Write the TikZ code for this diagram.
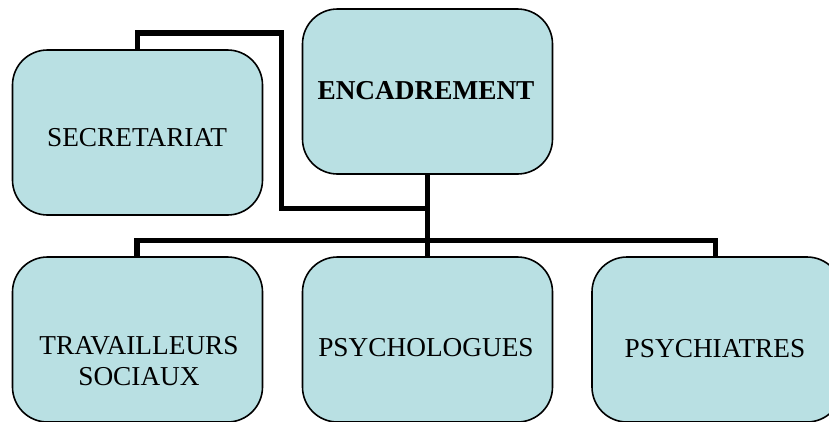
\documentclass[tikz,border=0pt]{standalone}
\usepackage{fontspec}
\setmainfont{Liberation Serif}
\definecolor{boxfill}{HTML}{B9E0E3}
\tikzset{
  orgbox/.style={draw=black, line width=1.6pt, fill=boxfill, rounded corners=35pt,
    minimum width=250pt, minimum height=165pt, inner sep=0pt, outer sep=0pt},
  txt/.style={font=\fontsize{27.3}{31}\selectfont, inner sep=0pt, align=center},
  conn/.style={line width=5.3pt, line join=miter, line cap=rect}
}
\begin{document}
\begin{tikzpicture}[x=1pt,y=-1pt]
\useasboundingbox (0,0) rectangle (829,421);
\clip (0,0) rectangle (829,421);
% connectors first (behind boxes)
\coordinate (j) at (427.5,240.5);
\coordinate (c1) at (281.5,33);
\coordinate (c2) at (427.5,208.5);
\coordinate (secn) at (137.5,50);
\coordinate (encs) at (427.5,175);
\coordinate (tran) at (137,257);
\coordinate (psyn) at (427.5,257);
\coordinate (psin) at (715.5,257);
\draw[conn] (secn) |- (c1) |- (c2);
\draw[conn] (encs) -- (j);
\draw[conn] (tran) |- (j);
\draw[conn] (psin) |- (j);
\draw[conn] (psyn) -- (j);
% boxes
\node[orgbox] (sec) at (137.5,132.5) {};
\node[orgbox] (enc) at (427.5,91.5) {};
\node[orgbox] (tra) at (137.5,339.5) {};
\node[orgbox] (psy) at (427.5,339.5) {};
\node[orgbox] (psi) at (717,339.5) {};
% texts
\node[txt, anchor=base] (tsec) at (137,146) {SECRETARIAT};
\node[txt, anchor=base] (tenc) at (426,99) {\bfseries ENCADREMENT};
\node[txt] (ttra) at (139,361.5) {TRAVAILLEURS\\SOCIAUX};
\node[txt, anchor=base] (tpsy) at (426,356) {PSYCHOLOGUES};
\node[txt, anchor=base] (tpsi) at (715,357) {PSYCHIATRES};
\end{tikzpicture}
\end{document}
